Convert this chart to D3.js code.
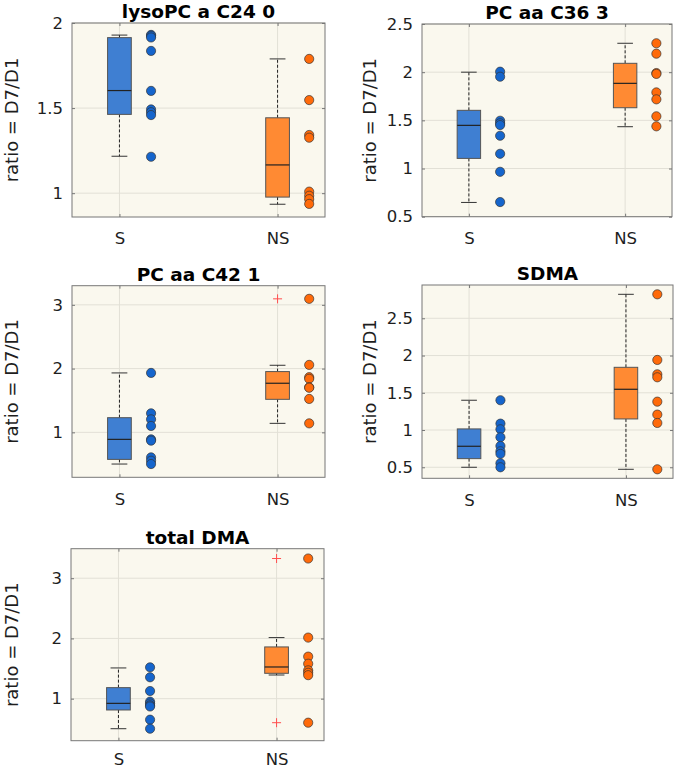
<!DOCTYPE html>
<html><head><meta charset="utf-8">
<script src="https://cdn.jsdelivr.net/npm/d3@7"></script>
<style>
body{margin:0;background:#ffffff;}
text{font-family:"DejaVu Sans",sans-serif;}
</style>
</head><body>
<svg id="chart" width="675" height="770"></svg>
<script>
// ---------- data ----------
const categories = ["S", "NS"];
const titles = ["lysoPC a C24 0", "PC aa C36 3", "PC aa C42 1", "SDMA", "total DMA"];
const yLabel = "ratio = D7/D1";

// individual ratios per group
const lysoS  = [1.93, 1.925, 1.915, 1.836, 1.601, 1.492, 1.476, 1.459, 1.214];
const lysoNS = [1.789, 1.547, 1.342, 1.326, 1.009, 0.985, 0.965, 0.937];
const c36S   = [2.005, 1.953, 1.496, 1.47, 1.451, 1.34, 1.153, 0.966, 0.652];
const c36NS  = [2.30, 2.192, 1.991, 1.982, 1.79, 1.718, 1.542, 1.438];
const c42S   = [1.932, 1.298, 1.204, 1.1, 0.89, 0.87, 0.607, 0.555, 0.503];
const c42NS  = [3.094, 2.058, 1.865, 1.84, 1.707, 1.70, 1.524, 1.141];
const sdmaS  = [1.40, 1.086, 1.01, 0.903, 0.786, 0.715, 0.68, 0.554, 0.50];
const sdmaNS = [2.822, 1.941, 1.748, 1.708, 1.381, 1.207, 1.095, 0.473];
const dmaS   = [1.52, 1.355, 1.127, 0.95, 0.92, 0.89, 0.87, 0.651, 0.501];
const dmaNS  = [3.327, 2.014, 1.698, 1.58, 1.47, 1.43, 1.39, 0.601];

// box statistics: [lower whisker, q1, median, q3, upper whisker]
const lysoBoxS  = [1.217, 1.463, 1.603, 1.914, 1.929];
const lysoBoxNS = [0.935, 0.977, 1.166, 1.443, 1.789];
const c36BoxS   = [0.648, 1.105, 1.448, 1.604, 2.0];
const c36BoxNS  = [1.434, 1.631, 1.884, 2.092, 2.30];
const c42BoxS   = [0.503, 0.576, 0.89, 1.23, 1.932];
const c42BoxNS  = [1.141, 1.518, 1.77, 1.953, 2.052];
const sdmaBoxS  = [0.5, 0.616, 0.782, 1.015, 1.40];
const sdmaBoxNS = [0.473, 1.149, 1.547, 1.842, 2.822];
const dmaBoxS   = [0.501, 0.812, 0.922, 1.183, 1.51];
const dmaBoxNS  = [1.393, 1.421, 1.526, 1.859, 2.014];

// outliers (red +)
const lysoOutS = [], lysoOutNS = [];
const c36OutS = [],  c36OutNS = [];
const c42OutS = [],  c42OutNS = [3.094];
const sdmaOutS = [], sdmaOutNS = [];
const dmaOutS = [],  dmaOutNS = [3.327, 0.601];

// axis ticks and limits
const yTicksLyso = [1, 1.5, 2];
const yTicksC36  = [0.5, 1, 1.5, 2, 2.5];
const yTicksC42  = [1, 2, 3];
const yTicksSdma = [0.5, 1, 1.5, 2, 2.5];
const yTicksDma  = [1, 2, 3];
const yLimLyso = [0.86, 2.0];
const yLimC36  = [0.5, 2.5];
const yLimC42  = [0.295, 3.3];
const yLimSdma = [0.352, 2.947];
const yLimDma  = [0.302, 3.49];
const xLim = [0.7, 2.3];

// ---------- layout ----------
const layout = [
  {l: 72,  t: 23,    r: 325, b: 217,   yl: 18,  xp: 15.6},
  {l: 422, t: 24,    r: 672, b: 216.7, yl: 376, xp: 15.6},
  {l: 72,  t: 285.7, r: 325, b: 477.3, yl: 18,  xp: 15.6},
  {l: 422, t: 285,   r: 673, b: 478.3, yl: 376, xp: 15.6},
  {l: 71,  t: 548.7, r: 324, b: 740.7, yl: 18,  xp: 12.8}
];

const panels = [
  {title: titles[0], pts: [lysoS, lysoNS], box: [lysoBoxS, lysoBoxNS], out: [lysoOutS, lysoOutNS], ticks: yTicksLyso, lim: yLimLyso},
  {title: titles[1], pts: [c36S, c36NS],   box: [c36BoxS, c36BoxNS],   out: [c36OutS, c36OutNS],   ticks: yTicksC36,  lim: yLimC36},
  {title: titles[2], pts: [c42S, c42NS],   box: [c42BoxS, c42BoxNS],   out: [c42OutS, c42OutNS],   ticks: yTicksC42,  lim: yLimC42},
  {title: titles[3], pts: [sdmaS, sdmaNS], box: [sdmaBoxS, sdmaBoxNS], out: [sdmaOutS, sdmaOutNS], ticks: yTicksSdma, lim: yLimSdma},
  {title: titles[4], pts: [dmaS, dmaNS],   box: [dmaBoxS, dmaBoxNS],   out: [dmaOutS, dmaOutNS],   ticks: yTicksDma,  lim: yLimDma}
];

const boxFill = ["#3f7fd2", "#ff8a33"];
const dotFill = ["#1565cc", "#ff6a0a"];
const bg = "#faf8ee";
const gridColor = "#e2e0d6";
const frameColor = "#777777";
const textColor = "#1e1e1e";

const svg = d3.select("#chart");

panels.forEach((p, k) => {
  const L = layout[k];
  const x = d3.scaleLinear().domain(xLim).range([L.l, L.r]);
  const y = d3.scaleLinear().domain(p.lim).range([L.b, L.t]);
  const g = svg.append("g");

  g.append("rect").attr("x", L.l).attr("y", L.t)
    .attr("width", L.r - L.l).attr("height", L.b - L.t).attr("fill", bg);

  // grid
  g.selectAll(".gy").data(p.ticks).join("line")
    .attr("x1", L.l).attr("x2", L.r)
    .attr("y1", d => y(d)).attr("y2", d => y(d))
    .attr("stroke", gridColor).attr("stroke-width", 1);
  g.selectAll(".gx").data([1, 2]).join("line")
    .attr("x1", d => x(d)).attr("x2", d => x(d))
    .attr("y1", L.t).attr("y2", L.b)
    .attr("stroke", gridColor).attr("stroke-width", 1);

  // boxes
  p.box.forEach((bx, i) => {
    const cx = i + 1;
    const [wl, q1, med, q3, wh] = bx;
    g.append("line").attr("x1", x(cx)).attr("x2", x(cx))
      .attr("y1", y(q3)).attr("y2", y(wh))
      .attr("stroke", "#222").attr("stroke-width", 1).attr("stroke-dasharray", "3,2");
    g.append("line").attr("x1", x(cx)).attr("x2", x(cx))
      .attr("y1", y(q1)).attr("y2", y(wl))
      .attr("stroke", "#222").attr("stroke-width", 1).attr("stroke-dasharray", "3,2");
    [wl, wh].forEach(v => {
      g.append("line").attr("x1", x(cx - 0.05)).attr("x2", x(cx + 0.05))
        .attr("y1", y(v)).attr("y2", y(v))
        .attr("stroke", "#333").attr("stroke-width", 1);
    });
    g.append("rect").attr("x", x(cx - 0.075)).attr("y", y(q3))
      .attr("width", x(cx + 0.075) - x(cx - 0.075)).attr("height", y(q1) - y(q3))
      .attr("fill", boxFill[i]).attr("stroke", "#555").attr("stroke-width", 1);
    g.append("line").attr("x1", x(cx - 0.075)).attr("x2", x(cx + 0.075))
      .attr("y1", y(med)).attr("y2", y(med))
      .attr("stroke", "#222").attr("stroke-width", 1.2);
    p.out[i].forEach(v => {
      g.append("path")
        .attr("d", `M${x(cx) - 4.5},${y(v)}H${x(cx) + 4.5}M${x(cx)},${y(v) - 4.5}V${y(v) + 4.5}`)
        .attr("stroke", "#ff4d4d").attr("stroke-width", 1).attr("fill", "none");
    });
  });

  // points
  p.pts.forEach((arr, i) => {
    g.selectAll(null).data(arr).join("circle")
      .attr("cx", x(i + 1.2)).attr("cy", d => y(d)).attr("r", 4.6)
      .attr("fill", dotFill[i]).attr("stroke", "#333").attr("stroke-width", 0.8)
      .attr("stroke-opacity", 0.85);
  });

  // axes
  const ax = g.append("g").attr("transform", `translate(${L.l},0)`)
    .call(d3.axisLeft(y).tickValues(p.ticks).tickSize(-3).tickPadding(9)
      .tickFormat(d3.format("~g")));
  ax.select(".domain").remove();
  ax.selectAll("line").attr("stroke", frameColor);
  ax.selectAll("text").attr("font-size", 16.5).attr("fill", textColor)
    .attr("font-family", "DejaVu Sans");

  const axr = g.append("g").attr("transform", `translate(${L.r},0)`)
    .call(d3.axisRight(y).tickValues(p.ticks).tickSize(-3).tickFormat(""));
  axr.select(".domain").remove();
  axr.selectAll("line").attr("stroke", frameColor);

  const axb = g.append("g").attr("transform", `translate(0,${L.b})`)
    .call(d3.axisBottom(x).tickValues([1, 2]).tickSize(-3).tickPadding(L.xp)
      .tickFormat(d => categories[d - 1]));
  axb.select(".domain").remove();
  axb.selectAll("line").attr("stroke", frameColor);
  axb.selectAll("text").attr("font-size", 16.5).attr("fill", textColor)
    .attr("font-family", "DejaVu Sans");

  const axt = g.append("g").attr("transform", `translate(0,${L.t})`)
    .call(d3.axisTop(x).tickValues([1, 2]).tickSize(-3).tickFormat(""));
  axt.select(".domain").remove();
  axt.selectAll("line").attr("stroke", frameColor);

  // frame
  g.append("rect").attr("x", L.l).attr("y", L.t)
    .attr("width", L.r - L.l).attr("height", L.b - L.t)
    .attr("fill", "none").attr("stroke", frameColor).attr("stroke-width", 1);

  // title
  g.append("text").attr("x", (L.l + L.r) / 2).attr("y", L.t - 5)
    .attr("text-anchor", "middle").attr("font-weight", "bold")
    .attr("font-size", 18.5).attr("fill", "#000").text(p.title);

  // y label
  g.append("text")
    .attr("transform", `translate(${L.yl},${(L.t + L.b) / 2}) rotate(-90)`)
    .attr("text-anchor", "middle").attr("font-size", 18).attr("fill", textColor)
    .text(yLabel);
});
</script>
</body></html>
